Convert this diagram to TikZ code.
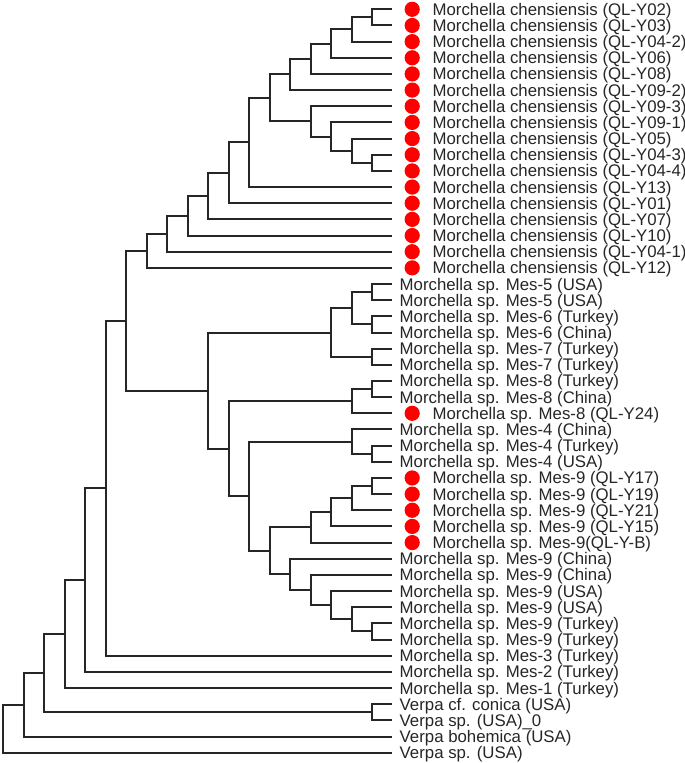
\documentclass[tikz,border=0pt]{standalone}
\usepackage{fontspec}
\setmainfont{Liberation Sans}
\usetikzlibrary{positioning,calc}

\newcommand\clade[4]{%
  \pgfmathsetmacro\cladex{392.5-20.5*#2}
  \path ($(#3)!0.5!(#4)$) coordinate (#1mid);
  \coordinate (#1) at (\cladex,0 |- #1mid);
  \draw[branch] (#3) -| (#1) |- (#4);
}

\begin{document}
\begin{tikzpicture}[x=1bp, y=-1bp,
  branch/.style={line width=2bp, draw=black!85},
  tipdot/.style={circle, fill=red, inner sep=0pt, minimum size=15.2bp},
  tiplabel/.style={anchor=west, inner sep=0pt, text height=12bp, text depth=0bp,
    text=black!85, font=\fontsize{16.8bp}{18.5bp}\selectfont}]

\path[use as bounding box, fill=white] (0,0) rectangle (685,763);

\foreach \hasdot/\lab [count=\i from 0] in {
  1/Morchella chensiensis (QL-Y02), 1/Morchella chensiensis (QL-Y03),
  1/Morchella chensiensis (QL-Y04-2), 1/Morchella chensiensis (QL-Y06),
  1/Morchella chensiensis (QL-Y08), 1/Morchella chensiensis (QL-Y09-2),
  1/Morchella chensiensis (QL-Y09-3), 1/Morchella chensiensis (QL-Y09-1),
  1/Morchella chensiensis (QL-Y05), 1/Morchella chensiensis (QL-Y04-3),
  1/Morchella chensiensis (QL-Y04-4), 1/Morchella chensiensis (QL-Y13),
  1/Morchella chensiensis (QL-Y01), 1/Morchella chensiensis (QL-Y07),
  1/Morchella chensiensis (QL-Y10), 1/Morchella chensiensis (QL-Y04-1),
  1/Morchella chensiensis (QL-Y12),
  0/Morchella sp. Mes-5 (USA), 0/Morchella sp. Mes-5 (USA),
  0/Morchella sp. Mes-6 (Turkey), 0/Morchella sp. Mes-6 (China),
  0/Morchella sp. Mes-7 (Turkey), 0/Morchella sp. Mes-7 (Turkey),
  0/Morchella sp. Mes-8 (Turkey), 0/Morchella sp. Mes-8 (China),
  1/Morchella sp. Mes-8 (QL-Y24),
  0/Morchella sp. Mes-4 (China), 0/Morchella sp. Mes-4 (Turkey),
  0/Morchella sp. Mes-4 (USA),
  1/Morchella sp. Mes-9 (QL-Y17), 1/Morchella sp. Mes-9 (QL-Y19),
  1/Morchella sp. Mes-9 (QL-Y21), 1/Morchella sp. Mes-9 (QL-Y15),
  1/Morchella sp. Mes-9(QL-Y-B),
  0/Morchella sp. Mes-9 (China), 0/Morchella sp. Mes-9 (China),
  0/Morchella sp. Mes-9 (USA), 0/Morchella sp. Mes-9 (USA),
  0/Morchella sp. Mes-9 (Turkey), 0/Morchella sp. Mes-9 (Turkey),
  0/Morchella sp. Mes-3 (Turkey), 0/Morchella sp. Mes-2 (Turkey),
  0/Morchella sp. Mes-1 (Turkey),
  0/Verpa cf. conica (USA), 0/Verpa sp. (USA)\_0,
  0/Verpa bohemica (USA), 0/Verpa sp. (USA)}{
  \coordinate (l\i) at (392,{9.3+16.16*\i});
  \ifnum\hasdot=1
    \node[tipdot, right=12.4bp of l\i] (d\i) {};
    \node[tiplabel, right=12.4bp of d\i] (t\i) {\lab};
  \else
    \node[tiplabel, right=7.5bp of l\i] (t\i) {\lab};
  \fi
}

\clade{c1}{1}{l0}{l1}
\clade{c2}{2}{c1}{l2}
\clade{c3}{3}{c2}{l3}
\clade{c4}{4}{c3}{l4}
\clade{c5}{5}{c4}{l5}
\clade{g1}{1}{l9}{l10}
\clade{g2}{2}{l8}{g1}
\clade{g3}{3}{l7}{g2}
\clade{g4}{4}{l6}{g3}
\clade{k6}{6}{c5}{g4}
\clade{k7}{7}{k6}{l11}
\clade{k8}{8}{k7}{l12}
\clade{k9}{9}{k8}{l13}
\clade{k10}{10}{k9}{l14}
\clade{k11}{11}{k10}{l15}
\clade{chen}{12}{k11}{l16}

\clade{m5}{1}{l17}{l18}
\clade{m6}{1}{l19}{l20}
\clade{m7}{1}{l21}{l22}
\clade{m56}{2}{m5}{m6}
\clade{up}{3}{m56}{m7}
\clade{m8a}{1}{l23}{l24}
\clade{m8}{2}{m8a}{l25}
\clade{m4a}{1}{l27}{l28}
\clade{m4}{2}{l26}{m4a}
\clade{q1}{1}{l29}{l30}
\clade{q2}{2}{q1}{l31}
\clade{q3}{3}{q2}{l32}
\clade{q4}{4}{q3}{l33}
\clade{n1}{1}{l38}{l39}
\clade{n2}{2}{l37}{n1}
\clade{n3}{3}{l36}{n2}
\clade{n4}{4}{l35}{n3}
\clade{n5}{5}{l34}{n4}
\clade{lo6}{6}{q4}{n5}
\clade{lo7}{7}{m4}{lo6}
\clade{lo8}{8}{m8}{lo7}
\clade{mes}{9}{up}{lo8}

\clade{r13}{13}{chen}{mes}
\clade{r14}{14}{r13}{l40}
\clade{r15}{15}{r14}{l41}
\clade{r16}{16}{r15}{l42}
\clade{verpa}{1}{l43}{l44}
\clade{r17}{17}{r16}{verpa}
\clade{r18}{18}{r17}{l45}
\clade{r19}{19}{r18}{l46}
\end{tikzpicture}
\end{document}
